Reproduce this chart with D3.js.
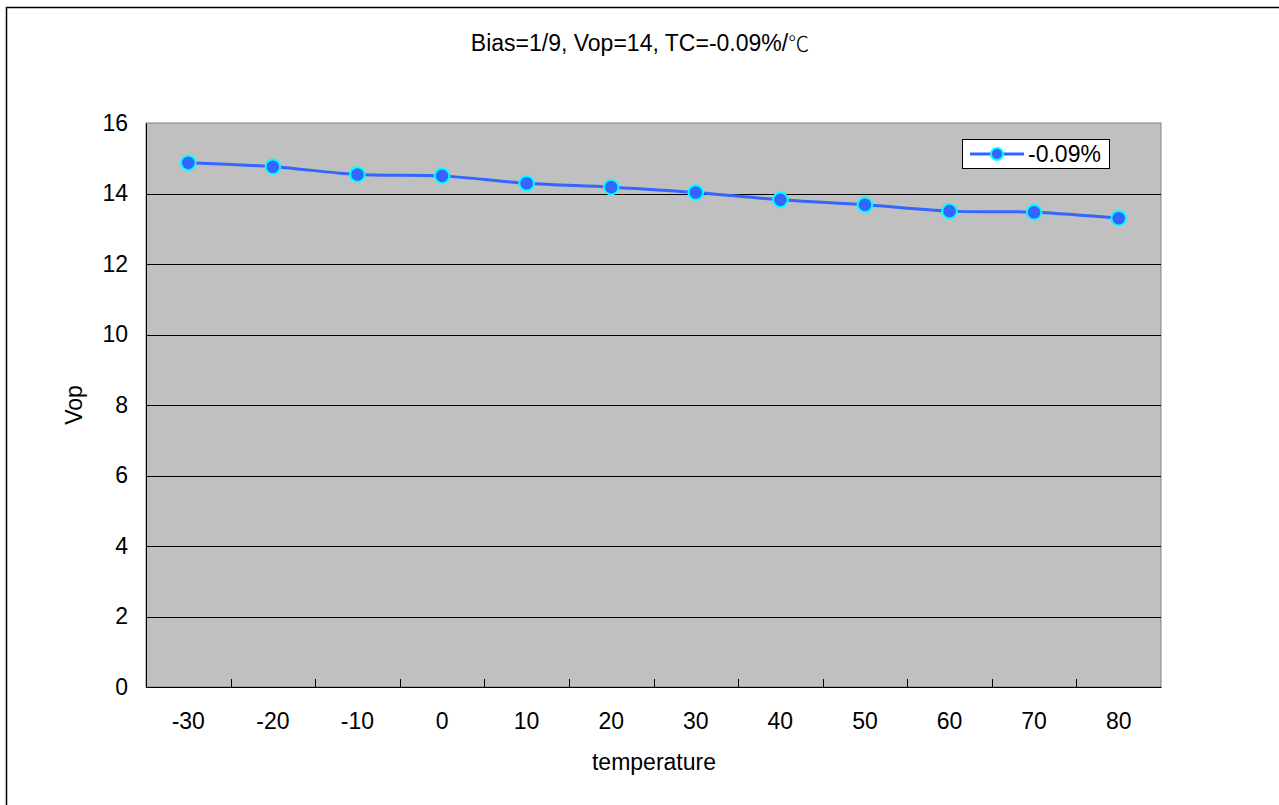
<!DOCTYPE html>
<html>
<head>
<meta charset="utf-8">
<script src="https://cdn.jsdelivr.net/npm/d3@7"></script>
<style>
  body { margin: 0; background: #fff; }
  text { font-family: "Liberation Sans", Arial, sans-serif; fill: #000; }
</style>
</head>
<body>
<div id="chart"></div>
<script>
// Données
const temperatures = [-30, -20, -10, 0, 10, 20, 30, 40, 50, 60, 70, 80];
const vop = [14.87, 14.76, 14.54, 14.5, 14.29, 14.18, 14.03, 13.82, 13.68, 13.5, 13.47, 13.3];
const yTicks = [0, 2, 4, 6, 8, 10, 12, 14, 16];
const seriesName = "-0.09%";
const data = temperatures.map((t, i) => ({ t, v: vop[i] }));

const width = 1279, height = 805;
const plot = { left: 146, right: 1161, top: 123, bottom: 687 };
const fontSize = "23px";

const svg = d3.select("#chart").append("svg")
    .attr("width", width).attr("height", height);

// Cadre extérieur
svg.append("rect")
    .attr("x", 6.5).attr("y", 7.5)
    .attr("width", 1290).attr("height", 820)
    .attr("fill", "#fff").attr("stroke", "#000").attr("stroke-width", 1.5);

// Échelles
const x = d3.scaleBand()
    .domain(temperatures)
    .range([plot.left, plot.right]);

const y = d3.scaleLinear()
    .domain([0, 16])
    .range([plot.bottom, plot.top]);

// Zone du graphique
svg.append("rect")
    .attr("x", plot.left).attr("y", plot.top)
    .attr("width", plot.right - plot.left).attr("height", plot.bottom - plot.top)
    .attr("fill", "#C0C0C0").attr("stroke", "#808080").attr("stroke-width", 1);

// Grille
svg.append("g")
    .selectAll("line")
    .data(yTicks.slice(1, -1))
    .join("line")
    .attr("x1", plot.left).attr("x2", plot.right)
    .attr("y1", d => Math.round(y(d)) + 0.5).attr("y2", d => Math.round(y(d)) + 0.5)
    .attr("stroke", "#000").attr("stroke-width", 1);

// Axe Y
const yAxis = svg.append("g")
    .attr("transform", `translate(${plot.left},0)`)
    .call(d3.axisLeft(y).tickValues(yTicks).tickSize(0).tickPadding(18));
yAxis.select(".domain").attr("stroke", "#000");
yAxis.selectAll("text").attr("font-size", fontSize)
    .attr("font-family", "Liberation Sans, Arial, sans-serif").attr("fill", "#000");

// Axe X
const xAxis = svg.append("g")
    .attr("transform", `translate(0,${plot.bottom})`)
    .call(d3.axisBottom(x).tickSize(0).tickPadding(26));
xAxis.select(".domain").attr("stroke", "#000");
xAxis.selectAll("text").attr("font-size", fontSize)
    .attr("font-family", "Liberation Sans, Arial, sans-serif").attr("fill", "#000");

// Graduations entre les catégories (vers l'intérieur)
svg.append("g")
    .selectAll("line")
    .data(temperatures.slice(1))
    .join("line")
    .attr("x1", d => Math.round(x(d)) + 0.5).attr("x2", d => Math.round(x(d)) + 0.5)
    .attr("y1", plot.bottom - 8).attr("y2", plot.bottom)
    .attr("stroke", "#000");

// Courbe lissée
const line = d3.line()
    .x(d => x(d.t) + x.bandwidth() / 2)
    .y(d => y(d.v))
    .curve(d3.curveCatmullRom.alpha(0));

svg.append("path")
    .datum(data)
    .attr("d", line)
    .attr("fill", "none")
    .attr("stroke", "#3366FF")
    .attr("stroke-width", 3);

svg.append("g")
    .selectAll("circle")
    .data(data)
    .join("circle")
    .attr("cx", d => x(d.t) + x.bandwidth() / 2)
    .attr("cy", d => y(d.v))
    .attr("r", 7.3)
    .attr("fill", "#3366FF")
    .attr("stroke", "#00FFFF")
    .attr("stroke-width", 2);

// Légende
const legend = svg.append("g");
legend.append("rect")
    .attr("x", 962.5).attr("y", 139.5).attr("width", 147).attr("height", 29)
    .attr("fill", "#fff").attr("stroke", "#000");
legend.append("line")
    .attr("x1", 970).attr("x2", 1024).attr("y1", 154).attr("y2", 154)
    .attr("stroke", "#3366FF").attr("stroke-width", 3);
legend.append("circle")
    .attr("cx", 997).attr("cy", 154).attr("r", 6)
    .attr("fill", "#3366FF").attr("stroke", "#00FFFF").attr("stroke-width", 2);
legend.append("text")
    .attr("x", 1028).attr("y", 162)
    .attr("font-size", fontSize)
    .text(seriesName);

// Titre et libellés d'axes
const title = svg.append("text")
    .attr("x", 640).attr("y", 51)
    .attr("text-anchor", "middle")
    .attr("font-size", fontSize);
title.append("tspan").text("Bias=1/9, Vop=14, TC=-0.09%/");
title.append("tspan")
    .attr("font-family", "Noto Sans CJK SC, DejaVu Serif, serif")
    .attr("font-size", "21px")
    .attr("font-weight", 300)
    .text("℃");

svg.append("text")
    .attr("transform", `translate(82,405) rotate(-90)`)
    .attr("text-anchor", "middle")
    .attr("font-size", fontSize)
    .text("Vop");

svg.append("text")
    .attr("x", 654).attr("y", 770)
    .attr("text-anchor", "middle")
    .attr("font-size", fontSize)
    .text("temperature");
</script>
</body>
</html>
